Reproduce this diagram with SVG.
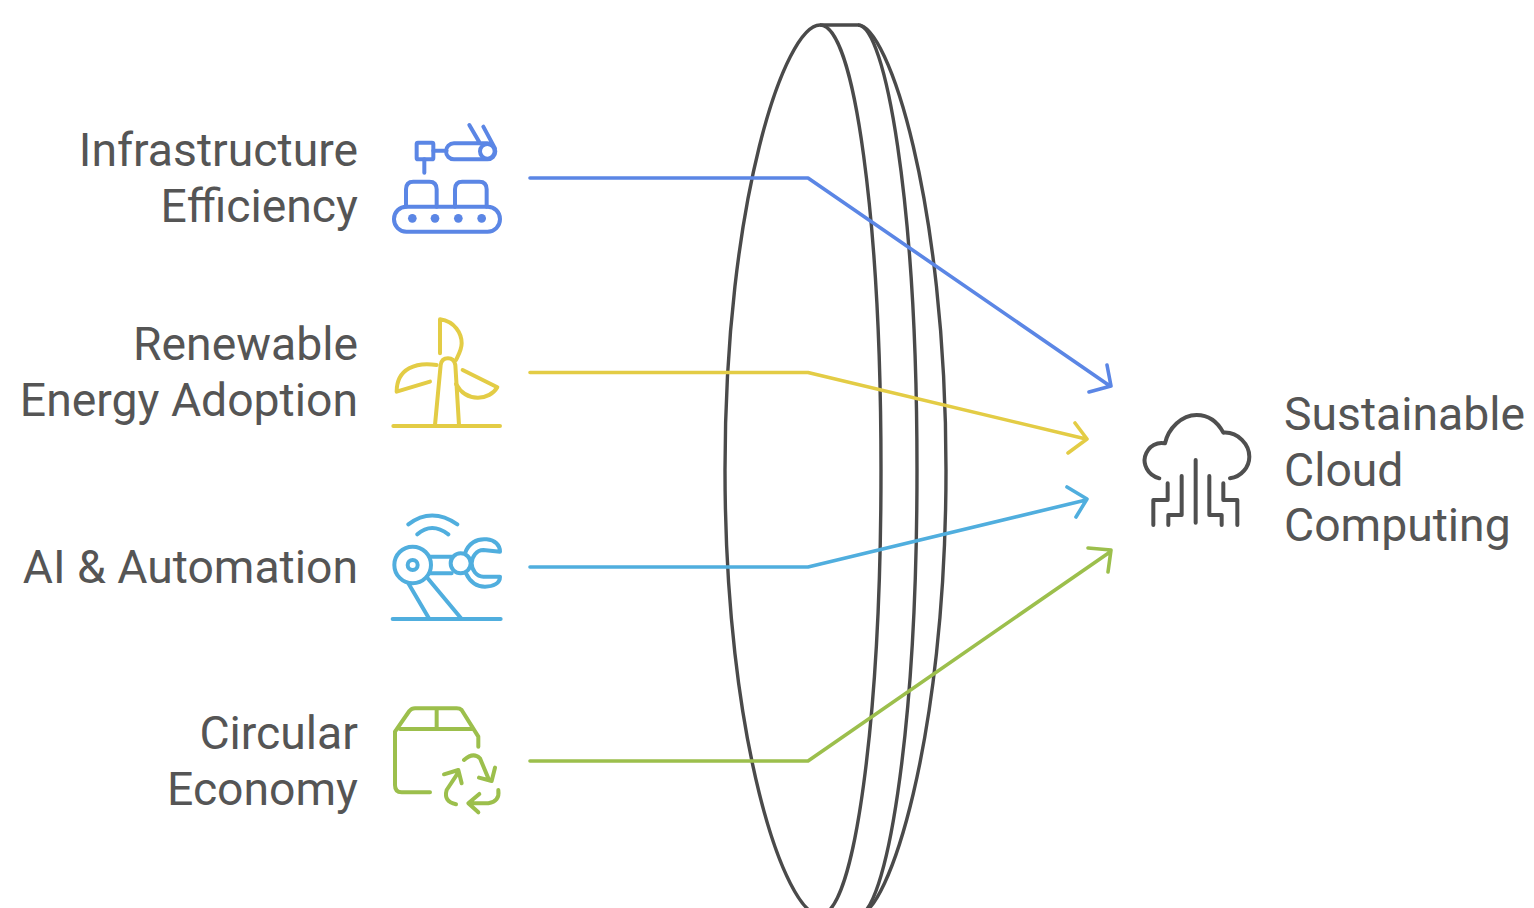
<svg xmlns="http://www.w3.org/2000/svg" width="1534" height="908" viewBox="0 0 1534 908">
<style>
text{font-family:Roboto,"Liberation Sans",sans-serif;font-size:46.3px;fill:#555}
.r{text-anchor:end}
.ln,.ic{fill:none;stroke-linecap:round;stroke-linejoin:round}
.ln{stroke-width:3.6}
.ic{stroke-width:12}
.blue{stroke:#5b86e5}.yellow{stroke:#e3cc45}.teal{stroke:#50aede}.green{stroke:#9cbf4c}
.lens{fill:none;stroke:#4a4a4a;stroke-width:3.4}
</style>
<rect width="1534" height="908" fill="#fff"/>
<g id="lens">
<path class="lens" d="M858 25H820C785 25 725 200 725 470S785 915 820 915H858"/>
<path class="lens" d="M820 25C855 25 881 225 881 470S855 915 820 915"/>
<path class="lens" d="M858 25C885 25 917 200 917 470S885 915 858 915"/>
<path class="lens" d="M858 25C888 25 946 200 946 470S888 915 858 915"/>
</g>
<g id="connectors">
<path class="ln blue" d="M530 178H808L1110 386M1089 392L1111 386L1107 365"/>
<path class="ln yellow" d="M530 372.500H808L1086 439M1075 423L1087 439L1068 453"/>
<path class="ln teal" d="M530 567H808L1086 500M1067 487L1087 499L1076 517"/>
<path class="ln green" d="M530 761H808L1110 552M1088 548L1111 550L1108 572"/>
</g>
<g id="node-infrastructure">
<text class="r" x="358" y="166">Infrastructure</text>
<text class="r" x="358" y="222">Efficiency</text>
<g class="ic blue" transform="translate(380 110) scale(.3333)">
<rect x="110" y="98" width="50" height="50" rx="4"/>
<path d="M133 148V188M160 122H200M222 100H322A24 24 0 0 1 322 148H222A24 24 0 0 1 222 100ZM268 45L300 100M310 50L345 115"/>
<circle cx="322" cy="124" r="22"/>
<path d="M78 290V238Q78 215 100 215H148Q170 215 170 238V290M225 290V238Q225 215 247 215H298Q320 215 320 238V290"/>
<rect x="42" y="290" width="318" height="75" rx="37"/>
<g fill="#5b86e5" stroke="none"><circle cx="97" cy="325" r="13"/><circle cx="165" cy="325" r="13"/><circle cx="235" cy="325" r="13"/><circle cx="305" cy="325" r="13"/></g>
</g>
</g>
<g id="node-renewable">
<text class="r" x="358" y="360">Renewable</text>
<text class="r" x="358" y="416">Energy Adoption</text>
<g class="ic yellow" transform="translate(380 310) scale(.3333)">
<path d="M40 348H360M165 345L182 165Q185 145 204 145Q222 145 226 165L237 345"/>
<path d="M180 130V28C225 35 245 70 245 100C245 120 235 135 228 150"/>
<path d="M170 165C110 155 50 175 50 245L150 215"/>
<path d="M248 180L352 232C330 270 260 280 228 222"/>
</g>
</g>
<g id="node-ai">
<text class="r" x="358" y="583">AI &amp; Automation</text>
<g class="ic teal" transform="translate(380 505) scale(.3333)">
<path d="M38 342H362M85 235L148 342M145 222L245 342M85 58Q155 5 232 58M112 88Q155 50 205 88"/>
<circle cx="98" cy="180" r="55"/><circle cx="98" cy="180" r="15"/>
<path d="M150 155H215M150 205H215"/>
<circle cx="242" cy="175" r="30"/>
<path d="M255 145C265 115 290 100 320 103C345 105 360 120 360 140L310 135C290 135 275 155 275 175C275 195 290 215 310 215H360C360 235 340 245 315 245C290 245 270 230 258 205"/>
</g>
</g>
<g id="node-circular">
<text class="r" x="358" y="749">Circular</text>
<text class="r" x="358" y="805">Economy</text>
<g class="ic green" transform="translate(380 695) scale(.3333)">
<path d="M295 155V125L245 45Q240 40 230 40H105Q95 40 88 48L45 110V270Q45 292 65 292H150M60 102H280M170 40V102"/>
<path d="M252 195Q280 170 300 190L325 250M345 218L335 258L297 248"/>
<path d="M355 285Q360 320 325 325H270M298 297L265 325L295 352"/>
<path d="M228 328Q190 320 200 285L235 232M192 238L235 225L245 265"/>
</g>
</g>
<g id="node-sustainable">
<text x="1284" y="430">Sustainable</text>
<text x="1284" y="486">Cloud</text>
<text x="1284" y="541">Computing</text>
<g class="ic" stroke="#4f4f4f" transform="translate(1130 400) scale(.3333)">
<path d="M88 235C50 225 40 190 45 170C55 135 85 125 105 130C115 85 155 45 200 45C240 45 265 70 280 98C325 95 358 135 358 170C358 200 335 230 300 235"/>
<path d="M197 180V368M155 228V345H115V375M113 250V300H70V375M238 228V345H275V375M280 250V300H322V375"/>
</g>
</g>
</svg>
